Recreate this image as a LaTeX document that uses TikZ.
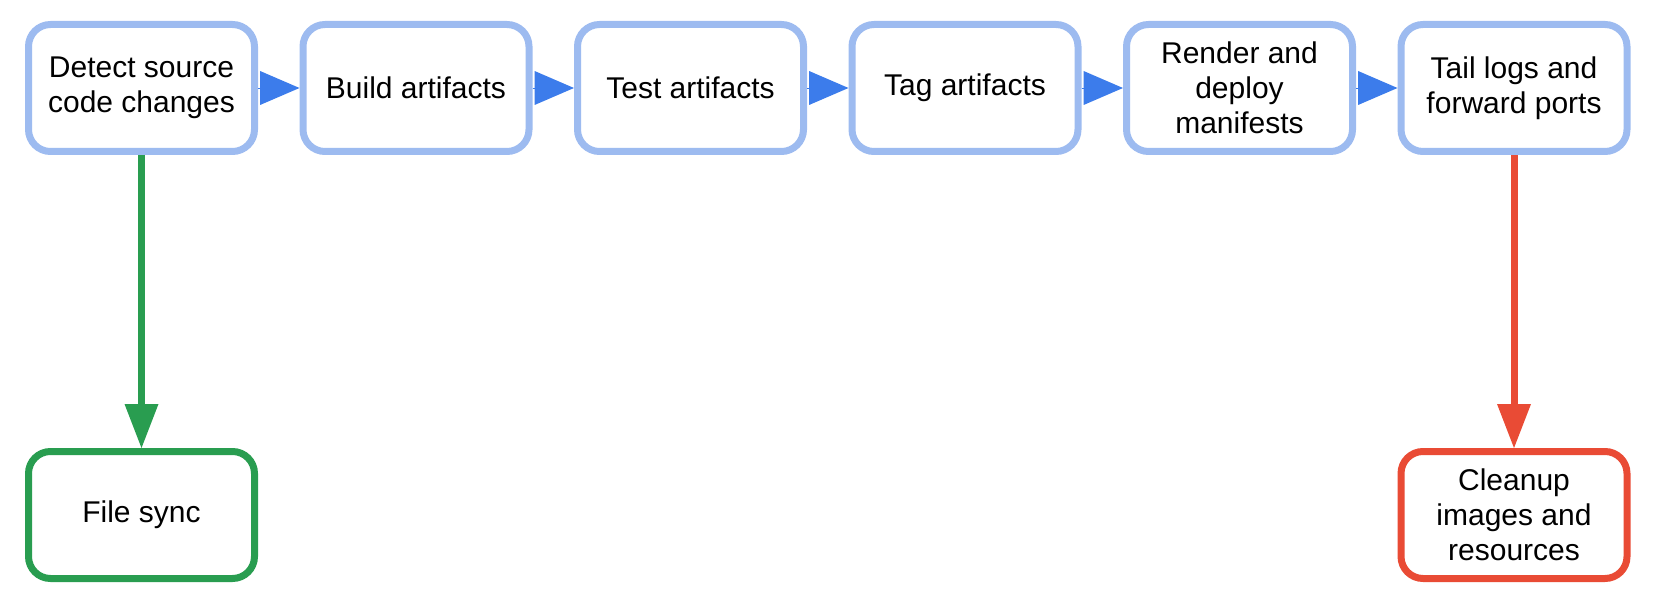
\documentclass[tikz,border=0pt]{standalone}
\usepackage{fontspec}
\setmainfont{Liberation Sans}
\usetikzlibrary{positioning,arrows.meta}
\definecolor{boxblue}{RGB}{157,187,240}
\definecolor{tipblue}{RGB}{60,124,235}
\definecolor{syncgreen}{RGB}{41,157,80}
\definecolor{cleanred}{RGB}{233,75,53}

\begin{document}
\begin{tikzpicture}[x=0.5pt,y=-0.5pt,node distance=20.75pt,
  stage/.style={draw=boxblue,line width=3.5pt,rounded corners=11pt,fill=white,
    minimum width=113pt,minimum height=63.5pt,inner sep=0pt,align=center,
    font=\fontsize{15pt}{17.5pt}\selectfont},
  flow/.style={tipblue,line width=0.1pt,-{Triangle[length=19.7pt,width=17pt,line width=0pt]}},
  branch/.style={line width=3.5pt,-{Triangle[length=22pt,width=17pt,line width=0pt]}}]
\useasboundingbox (0,0) rectangle (1653,614);
% pipeline
\node [stage] (detect) at (141.5,88) {Detect source\\code changes};
\node [stage,right=of detect] (build) {Build artifacts};
\node [stage,right=of build] (test) {Test artifacts};
\node [stage,right=of test] (tag) {Tag artifacts};
\node [stage,right=of tag] (deploy) {Render and\\deploy\\manifests};
\node [stage,right=of deploy] (tail) {Tail logs and\\forward ports};
% side tasks
\node [stage,draw=syncgreen,below=146.5pt of detect] (sync) {File sync};
\node [stage,draw=cleanred,below=146.5pt of tail] (cleanup) {Cleanup\\images and\\resources};

\draw [flow] (detect.east) -- (build.west);
\draw [flow] (build.east) -- (test.west);
\draw [flow] (test.east) -- (tag.west);
\draw [flow] (tag.east) -- (deploy.west);
\draw [flow] (deploy.east) -- (tail.west);
\draw [branch,syncgreen] (detect.south) -- (sync.north);
\draw [branch,cleanred] (tail.south) -- (cleanup.north);
\end{tikzpicture}
\end{document}
